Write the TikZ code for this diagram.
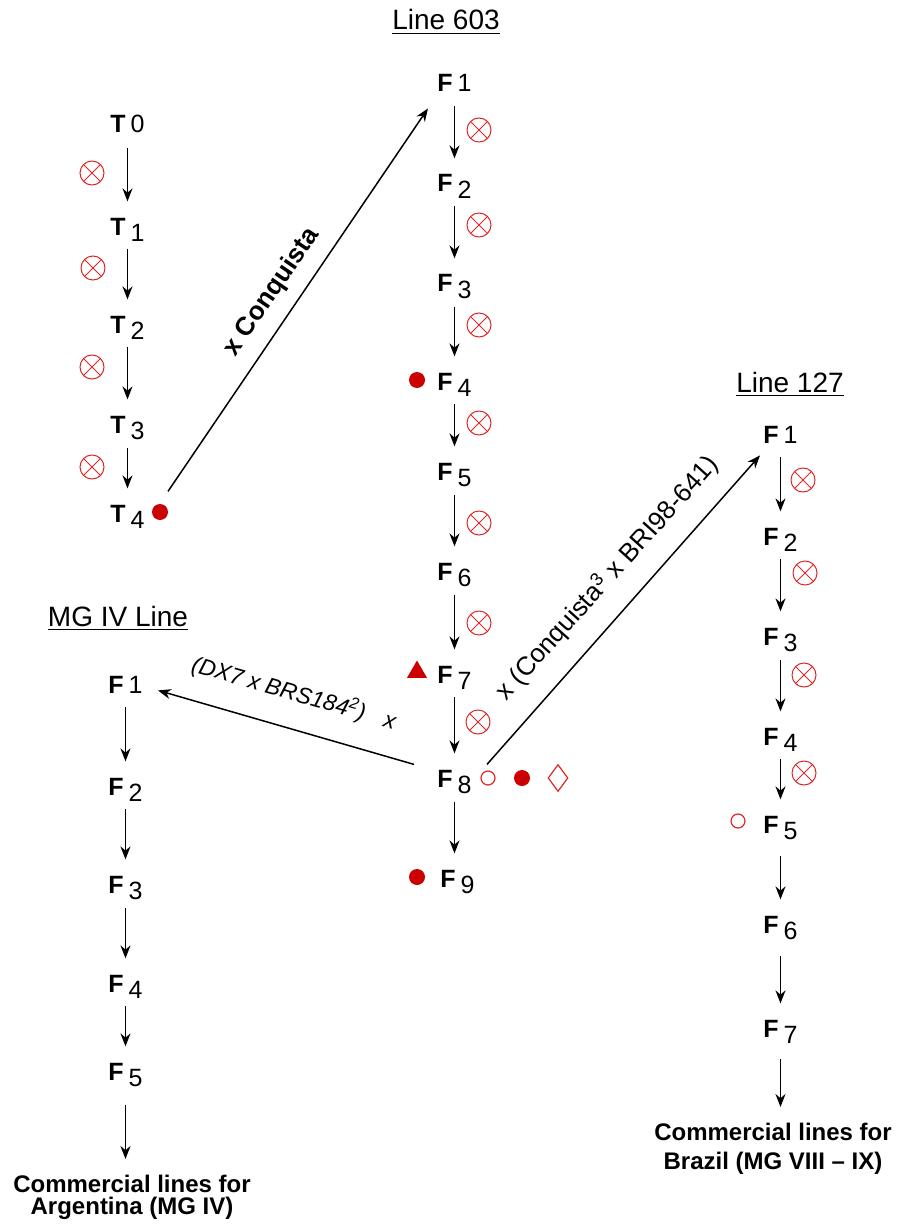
\documentclass[tikz,border=0pt]{standalone}
\usepackage{fontspec}
\setmainfont{Liberation Sans}
\usetikzlibrary{arrows.meta,shapes.geometric}
\definecolor{rd}{RGB}{204,0,0}
\definecolor{rdl}{RGB}{222,40,40}
\newcommand\labu[2]{\textbf{#1}\kern2.5pt#2}
\newcommand\labd[2]{\textbf{#1}\kern2.5pt\raisebox{-3pt}{#2}}
\begin{document}
\begin{tikzpicture}[x=0.5pt,y=-0.5pt,
 lbl/.style={anchor=base west,inner sep=0pt,font=\fontsize{12.5}{15}\selectfont},
 arr/.style={-{Stealth[length=6.5pt,width=5pt]},line width=0.8pt,shorten <=4pt,shorten >=8pt},
 arru/.style={arr,shorten <=7pt},
 darr/.style={-{Stealth[length=6.5pt,width=5pt]},line width=0.75pt},
 ttl/.style={anchor=base,inner sep=0pt,font=\fontsize{14}{17}\selectfont},
 nope/.style={circle,draw=rdl,line width=0.5pt,minimum size=12pt,inner sep=0pt,
   path picture={\draw[rdl,line width=0.5pt]
     (path picture bounding box.south west)--(path picture bounding box.north east)
     (path picture bounding box.north west)--(path picture bounding box.south east);}},
 reddot/.style={circle,fill=rd,minimum size=8pt,inner sep=0pt},
 ring/.style={circle,draw=rdl,line width=0.6pt,minimum size=7pt,inner sep=0pt},
 tri/.style={regular polygon,regular polygon sides=3,fill=rd,minimum size=11.5pt,inner sep=0pt},
 dia/.style={diamond,draw=rdl,line width=0.6pt,minimum width=10pt,minimum height=13.5pt,inner sep=0pt},
 comm/.style={anchor=north,inner sep=0pt,align=center,font=\bfseries\fontsize{12}{11}\selectfont},
]
\useasboundingbox (0,0) rectangle (896,1225);

% titles
\node[ttl] (t603) at (446,30) {\underline{Line 603}};
\node[ttl] (t127) at (790,392) {\underline{Line 127}};
\node[ttl] (tmg) at (118,626) {\underline{MG IV Line}};

% T column
\node[lbl] (T0) at (110,133) {\labu{T}{0}};
\node[lbl] (T1) at (110,235) {\labd{T}{1}};
\node[lbl] (T2) at (110,333) {\labd{T}{2}};
\node[lbl] (T3) at (110,433) {\labd{T}{3}};
\node[lbl] (T4) at (110,522) {\labd{T}{4}};
\draw[arru] (T0.south) -- (T0.south |- T1.north);
\draw[arr] (T1.south) -- (T1.south |- T2.north);
\draw[arr] (T2.south) -- (T2.south |- T3.north);
\draw[arr] (T3.south) -- (T3.south |- T4.north);
\node[nope] (xt1) at (92,173) {};
\node[nope] (xt2) at (93,268) {};
\node[nope] (xt3) at (92,367) {};
\node[nope] (xt4) at (92,467) {};
\node[reddot] (dt4) at (160,512) {};

% Line 603 column
\node[lbl] (A1) at (437,92) {\labu{F}{1}};
\node[lbl] (A2) at (437,192) {\labd{F}{2}};
\node[lbl] (A3) at (437,292) {\labd{F}{3}};
\node[lbl] (A4) at (437,390) {\labd{F}{4}};
\node[lbl] (A5) at (437,480) {\labd{F}{5}};
\node[lbl] (A6) at (437,580) {\labd{F}{6}};
\node[lbl] (A7) at (437,683) {\labd{F}{7}};
\node[lbl] (A8) at (437,787) {\labd{F}{8}};
\node[lbl] (A9) at (440,887) {\labd{F}{9}};
\draw[arru] (A1.south) -- (A1.south |- A2.north);
\draw[arr] (A2.south) -- (A2.south |- A3.north);
\draw[arr] (A3.south) -- (A3.south |- A4.north);
\draw[arr] (A4.south) -- (A4.south |- A5.north);
\draw[arr] (A5.south) -- (A5.south |- A6.north);
\draw[arr] (A6.south) -- (A6.south |- A7.north);
\draw[arr] (A7.south) -- (A7.south |- A8.north);
\draw[arr] (A8.south) -- (A8.south |- A9.north);
\node[nope] (xa1) at (479,130) {};
\node[nope] (xa2) at (479,225) {};
\node[nope] (xa3) at (479,325) {};
\node[nope] (xa4) at (479,423) {};
\node[nope] (xa5) at (479,523) {};
\node[nope] (xa6) at (479,623) {};
\node[nope] (xa7) at (478,722) {};
\node[reddot] (da4) at (417,380) {};
\node[tri] (ta7) at (417,672) {};
\node[ring] (ra8) at (488,778) {};
\node[reddot] (da8) at (522,778) {};
\node[dia] (ia8) at (558,778) {};
\node[reddot] (da9) at (417,877) {};

% Line 127 column
\node[lbl] (B1) at (763,443) {\labu{F}{1}};
\node[lbl] (B2) at (763,545) {\labd{F}{2}};
\node[lbl] (B3) at (763,645) {\labd{F}{3}};
\node[lbl] (B4) at (763,745) {\labd{F}{4}};
\node[lbl] (B5) at (763,833) {\labd{F}{5}};
\node[lbl] (B6) at (763,933) {\labd{F}{6}};
\node[lbl] (B7) at (763,1037) {\labd{F}{7}};
\node[comm,font=\bfseries\fontsize{12}{14.5}\selectfont] (Bc) at (773,1123) {Commercial lines for\\Brazil (MG VIII -- IX)};
\draw[arru] (B1.south) -- (B1.south |- B2.north);
\draw[arr] (B2.south) -- (B2.south |- B3.north);
\draw[arr] (B3.south) -- (B3.south |- B4.north);
\draw[arr] (B4.south) -- (B4.south |- B5.north);
\draw[arr,shorten <=8pt] (B5.south) -- (B5.south |- B6.north);
\draw[arr,shorten <=8pt] (B6.south) -- (B6.south |- B7.north);
\draw[arr,shorten <=8pt] (B7.south) -- (B7.south |- Bc.north);
\node[nope] (xb1) at (803,480) {};
\node[nope] (xb2) at (805,573) {};
\node[nope] (xb3) at (804,675) {};
\node[nope] (xb4) at (804,773) {};
\node[ring] (rb5) at (738,821) {};

% MG IV column
\node[lbl] (C1) at (108,693) {\labu{F}{1}};
\node[lbl] (C2) at (108,795) {\labd{F}{2}};
\node[lbl] (C3) at (108,893) {\labd{F}{3}};
\node[lbl] (C4) at (108,992) {\labd{F}{4}};
\node[lbl] (C5) at (108,1080) {\labd{F}{5}};
\node[comm] (Cc) at (132,1175) {Commercial lines for\\Argentina (MG IV)};
\draw[arru] (C1.south) -- (C1.south |- C2.north);
\draw[arr] (C2.south) -- (C2.south |- C3.north);
\draw[arr] (C3.south) -- (C3.south |- C4.north);
\draw[arr] (C4.south) -- (C4.south |- C5.north);
\draw[arr,shorten <=9pt] (C5.south) -- (C5.south |- Cc.north);

% crosses
\draw[darr] ([xshift=11.5pt,yshift=6.5pt]T4.north east) -- ([xshift=-4.5pt,yshift=-8pt]A1.south west);
\draw[darr] ([xshift=7.5pt,yshift=2.5pt]A8.north east) -- ([xshift=-1.5pt,yshift=-6pt]B1.south west);
\draw[darr] ([xshift=-11.5pt,yshift=2.5pt]A8.north west) -- ([xshift=7.5pt,yshift=-3pt]C1.east);

\node[rotate=55.8,inner sep=0pt,font=\bfseries\fontsize{13}{15}\selectfont] (l1) at (272,292) {x Conquista};
\node[rotate=48,inner sep=0pt,font=\fontsize{13}{15}\selectfont] (l2) at (607,578) {x (Conquista\textsuperscript{3} x BRI98-641)};
\node[rotate=-16,inner sep=0pt,font=\itshape\fontsize{11.5}{14}\selectfont] (l3) at (294,693) {(DX7 x BRS184\textsuperscript{2})\hspace{10pt}x};
\end{tikzpicture}
\end{document}
